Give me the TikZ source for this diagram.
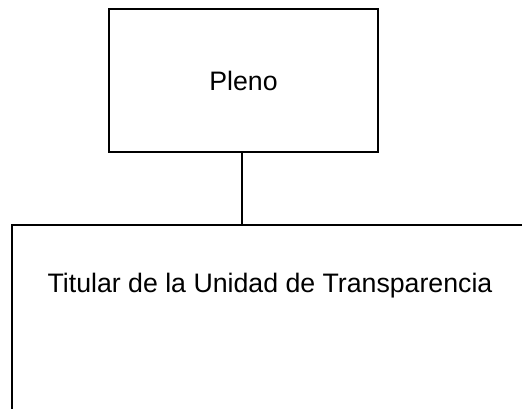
\documentclass[tikz,border=0pt]{standalone}
\usepackage{fontspec}
\setmainfont{Liberation Sans}
\begin{document}
\begin{tikzpicture}[x=1pt,y=-1pt,
  orgbox/.style={draw=black, line width=2pt, inner sep=0pt, fill=white,
    font=\fontsize{26.7}{32}\selectfont},
  link/.style={draw=black, line width=2pt}]
\useasboundingbox (0,0) rectangle (522,408);
\clip (0,0) rectangle (522,408);
\fill[white] (0,0) rectangle (522,408);
\node[orgbox, minimum width=269pt, minimum height=143pt] (pleno) at (243.5,80.5) {Pleno};
\node[orgbox, anchor=north, minimum width=516pt, text height=67pt, text depth=150pt] (tit) at (270,224) {Titular de la Unidad de Transparencia};
\draw[link] (pleno.south -| 242,0) -- (tit.north -| 242,0);
\end{tikzpicture}
\end{document}
